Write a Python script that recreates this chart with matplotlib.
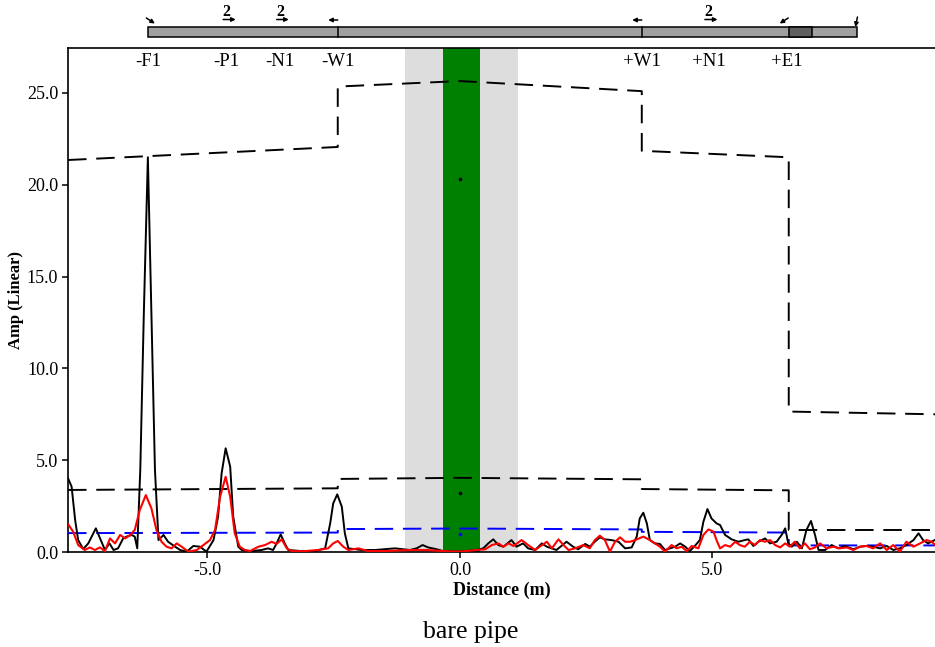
import matplotlib

matplotlib.use("Agg")
import matplotlib.pyplot as plt
from matplotlib.patches import Rectangle
from matplotlib.transforms import blended_transform_factory

plt.rcParams["font.family"] = "serif"
plt.rcParams["font.serif"] = ["Liberation Serif", "DejaVu Serif"]

# --- measured trace (black) ---
black_x = [-7.76, -7.69, -7.62, -7.56, -7.46, -7.36, -7.21, -7.10, -7.03, -6.94, -6.86, -6.77,
           -6.67, -6.60, -6.50, -6.44, -6.39, -6.33, -6.26, -6.18, -6.11, -6.04, -5.97, -5.87,
           -5.78, -5.64, -5.54, -5.41, -5.28, -5.15, -5.02, -4.88, -4.79, -4.72, -4.64, -4.55,
           -4.49, -4.39, -4.32, -4.13, -3.93, -3.80, -3.70, -3.63, -3.55, -3.47, -3.40, -3.14,
           -2.87, -2.67, -2.57, -2.51, -2.43, -2.34, -2.28, -2.21, -1.95, -1.68, -1.29, -0.99,
           -0.86, -0.74, -0.63, -0.46, -0.33, 0.0, 0.33, 0.46, 0.56, 0.66, 0.76, 0.86,
           1.02, 1.12, 1.25, 1.35, 1.49, 1.62, 1.72, 1.91, 2.11, 2.24, 2.34, 2.48,
           2.57, 2.67, 2.77, 2.87, 3.00, 3.14, 3.27, 3.40, 3.50, 3.56, 3.63, 3.70,
           3.76, 3.86, 3.96, 4.06, 4.16, 4.26, 4.36, 4.46, 4.55, 4.65, 4.75, 4.82,
           4.90, 4.98, 5.08, 5.15, 5.25, 5.38, 5.51, 5.64, 5.71, 5.81, 5.91, 6.04,
           6.14, 6.27, 6.37, 6.44, 6.50, 6.57, 6.67, 6.77, 6.86, 6.95, 7.03, 7.10,
           7.23, 7.36, 7.49, 7.62, 7.79, 7.92, 8.05, 8.18, 8.32, 8.45, 8.58, 8.71,
           8.84, 8.98, 9.08, 9.17, 9.27, 9.40]
black_y = [4.01, 3.56, 1.74, 0.65, 0.16, 0.47, 1.29, 0.56, 0.11, 0.47, 0.11, 0.20,
           0.74, 0.84, 0.93, 0.84, 0.20, 4.5, 13.0, 21.5, 13.0, 4.5, 0.65, 0.93,
           0.56, 0.29, 0.11, 0.02, 0.33, 0.29, 0.02, 0.65, 1.92, 4.28, 5.65, 4.65,
           1.92, 0.29, 0.11, 0.05, 0.11, 0.20, 0.11, 0.47, 0.96, 0.47, 0.11, 0.05,
           0.05, 0.20, 1.56, 2.65, 3.14, 2.47, 1.02, 0.20, 0.11, 0.11, 0.20, 0.11,
           0.20, 0.38, 0.25, 0.15, 0.05, 0.02, 0.11, 0.20, 0.47, 0.69, 0.38, 0.29,
           0.65, 0.29, 0.47, 0.20, 0.11, 0.47, 0.29, 0.11, 0.56, 0.29, 0.15, 0.44,
           0.29, 0.56, 0.80, 0.69, 0.65, 0.56, 0.20, 0.25, 0.84, 1.83, 2.14, 1.56,
           0.65, 0.47, 0.44, 0.11, 0.20, 0.29, 0.47, 0.29, 0.05, 0.33, 0.65, 1.65,
           2.34, 1.83, 1.56, 1.47, 0.93, 0.69, 0.56, 0.65, 0.69, 0.33, 0.56, 0.74,
           0.47, 0.56, 0.93, 1.29, 0.47, 0.29, 0.56, 0.20, 1.20, 1.69, 0.93, 0.11,
           0.11, 0.38, 0.20, 0.33, 0.15, 0.29, 0.33, 0.29, 0.20, 0.33, 0.11, 0.20,
           0.38, 0.65, 1.02, 0.65, 0.47, 0.65]

# --- processed trace (red) ---
red_x = [-7.76, -7.66, -7.56, -7.43, -7.33, -7.23, -7.13, -7.03, -6.93, -6.83, -6.73, -6.63,
         -6.53, -6.44, -6.34, -6.22, -6.11, -6.01, -5.91, -5.81, -5.71, -5.61, -5.51, -5.38,
         -5.21, -5.08, -4.95, -4.85, -4.75, -4.64, -4.55, -4.46, -4.36, -4.26, -4.16, -3.99,
         -3.86, -3.73, -3.63, -3.53, -3.43, -3.33, -3.07, -2.81, -2.61, -2.51, -2.42, -2.31,
         -2.21, -2.01, -1.82, -1.49, -0.99, -0.66, -0.33, 0.0, 0.33, 0.50, 0.63, 0.76,
         0.86, 0.96, 1.06, 1.22, 1.35, 1.49, 1.58, 1.72, 1.82, 1.95, 2.05, 2.15,
         2.28, 2.44, 2.57, 2.67, 2.77, 2.87, 2.97, 3.07, 3.17, 3.27, 3.37, 3.47,
         3.63, 3.76, 3.86, 3.96, 4.06, 4.19, 4.29, 4.39, 4.49, 4.59, 4.72, 4.82,
         4.92, 5.02, 5.08, 5.15, 5.25, 5.35, 5.45, 5.54, 5.64, 5.74, 5.84, 5.94,
         6.04, 6.14, 6.24, 6.34, 6.44, 6.53, 6.63, 6.73, 6.83, 6.93, 7.03, 7.13,
         7.26, 7.39, 7.52, 7.66, 7.79, 7.92, 8.05, 8.18, 8.32, 8.45, 8.58, 8.71,
         8.84, 8.98, 9.11, 9.24, 9.34, 9.41]
red_y = [1.52, 1.11, 0.38, 0.11, 0.25, 0.11, 0.25, 0.05, 0.74, 0.47, 0.93, 0.74,
         0.93, 1.20, 2.29, 3.10, 2.38, 1.20, 0.56, 0.29, 0.20, 0.47, 0.29, 0.02,
         0.11, 0.38, 0.65, 1.20, 3.01, 4.10, 3.01, 1.02, 0.29, 0.11, 0.05, 0.29,
         0.38, 0.56, 0.44, 0.69, 0.20, 0.05, 0.05, 0.11, 0.20, 0.47, 0.60, 0.29,
         0.11, 0.20, 0.05, 0.05, 0.11, 0.11, 0.05, 0.02, 0.11, 0.15, 0.38, 0.47,
         0.29, 0.47, 0.33, 0.65, 0.38, 0.11, 0.29, 0.56, 0.20, 0.69, 0.38, 0.11,
         0.20, 0.38, 0.20, 0.65, 0.89, 0.65, 0.02, 0.56, 0.80, 0.56, 0.56, 0.65,
         0.84, 0.65, 0.47, 0.29, 0.02, 0.38, 0.20, 0.29, 0.05, 0.33, 0.20, 0.93,
         1.23, 1.11, 0.65, 0.20, 0.38, 0.29, 0.56, 0.38, 0.29, 0.56, 0.38, 0.65,
         0.56, 0.65, 0.38, 0.25, 0.47, 0.29, 0.56, 0.20, 0.47, 0.15, 0.25, 0.47,
         0.20, 0.29, 0.20, 0.25, 0.11, 0.29, 0.33, 0.20, 0.47, 0.11, 0.38, 0.02,
         0.56, 0.29, 0.47, 0.65, 0.56, 0.38]

# --- threshold curves (stepped at the welds) ---
thr_x = [-7.76, -2.42, -2.42, 0.0, 3.60, 3.60, 6.51, 6.51, 9.41]
thr_upper = [21.35, 22.06, 25.35, 25.65, 25.10, 21.85, 21.50, 7.65, 7.50]
thr_lower = [3.38, 3.47, 3.98, 4.04, 3.96, 3.43, 3.36, 1.20, 1.20]
thr_blue = [1.03, 1.06, 1.25, 1.28, 1.23, 1.10, 1.06, 0.36, 0.36]

# markers at the reference location
dot_x = [0.0, 0.0]
dot_y = [20.3, 3.2]
blue_dot_y = [0.98]

# --- pipe features ---
feat_labels = ["-F1", "-P1", "-N1", "-W1", "+W1", "+N1", "+E1"]
feat_x = [-6.18, -4.63, -3.56, -2.42, 3.60, 4.93, 6.48]
pipe_start, pipe_end = -6.18, 7.86
weld_x = [-2.42, 3.60]
elbow_span = (6.51, 6.97)
deadzone_span = (-1.09, 1.15)
center_span = (-0.34, 0.39)

fig = plt.figure(figsize=(9.35, 6.47), dpi=100)
ax = fig.add_axes([0.0727, 0.1468, 0.9273, 0.7790])

ax.axvspan(*deadzone_span, color="#dddddd", lw=0, zorder=0)
ax.axvspan(*center_span, color="#008000", lw=0, zorder=1)

dash = (9.5, 5.0)
ax.plot(thr_x, thr_upper, color="black", lw=1.4, dashes=dash, zorder=3)
ax.plot(thr_x, thr_lower, color="black", lw=1.4, dashes=dash, zorder=3)
ax.plot(thr_x, thr_blue, color="#0000ff", lw=1.4, dashes=dash, zorder=3)

ax.plot(black_x, black_y, color="black", lw=1.4, zorder=4)
ax.plot(red_x, red_y, color="#ff0000", lw=1.5, zorder=5)

ax.plot(dot_x, dot_y, ls="none", marker="o", ms=1.6, color="black", zorder=6)
ax.plot([0.0], blue_dot_y, ls="none", marker="o", ms=1.6, color="#0000ff", zorder=6)

ax.set_xlim(-7.762, 9.406)
ax.set_ylim(0, 27.45)
ax.set_xticks([-5, 0, 5])
ax.set_xticklabels(["-5.0", "0.0", "5.0"])
ax.set_yticks([0, 5, 10, 15, 20, 25])
ax.set_yticklabels(["0.0", "5.0", "10.0", "15.0", "20.0", "25.0"])
ax.tick_params(direction="out", length=4, width=1.1, labelsize=13, pad=3)
ax.spines["right"].set_visible(False)
for s in ["left", "bottom", "top"]:
    ax.spines[s].set_linewidth(1.2)

ax.set_xlabel("Distance (m)", fontsize=13, fontweight="bold", labelpad=2)
ax.set_ylabel("Amp (Linear)", fontsize=12, fontweight="bold", labelpad=2)

trans = blended_transform_factory(ax.transData, ax.transAxes)
for lab, fx in zip(feat_labels, feat_x):
    ax.text(fx, 0.973, lab, transform=trans, ha="center", va="center", fontsize=13.5)

fig.text(0.503, 0.023, "bare pipe", ha="center", va="center", fontsize=18.5)

# --- pipe schematic above the plot (y in pixel rows from the top) ---
axt = fig.add_axes([0.0727, 0.9258, 0.9273, 0.0742], sharex=ax)
axt.set_ylim(48, 0)
axt.axis("off")
axt.add_patch(Rectangle((pipe_start, 27), pipe_end - pipe_start, 10,
                        facecolor="#a0a0a0", edgecolor="black", lw=1.1, clip_on=False))
axt.add_patch(Rectangle((elbow_span[0], 27), elbow_span[1] - elbow_span[0], 10,
                        facecolor="#606060", edgecolor="black", lw=1.1, clip_on=False))
for wx in weld_x:
    axt.plot([wx, wx], [27, 37], color="black", lw=1.1, clip_on=False)

arrows = [
    ((-6.21, 18.0), (-6.04, 23.5)),
    ((-4.69, 19.5), (-4.44, 19.5)),
    ((-3.63, 19.5), (-3.39, 19.5)),
    ((-2.42, 20.0), (-2.61, 20.0)),
    ((3.60, 20.0), (3.41, 20.0)),
    ((4.85, 19.5), (5.10, 19.5)),
    ((6.50, 18.0), (6.33, 23.5)),
    ((7.87, 17.0), (7.83, 27.0)),
]
for tail, head in arrows:
    axt.annotate("", xy=head, xytext=tail,
                 arrowprops=dict(arrowstyle="-|>", lw=1.1, color="black",
                                 mutation_scale=6, shrinkA=0, shrinkB=0),
                 annotation_clip=False)
for qx in [-4.63, -3.56, 4.92]:
    axt.text(qx, 12.0, "2", ha="center", va="center", fontsize=11.5, fontweight="bold")

fig.savefig("out.png", dpi=100)
